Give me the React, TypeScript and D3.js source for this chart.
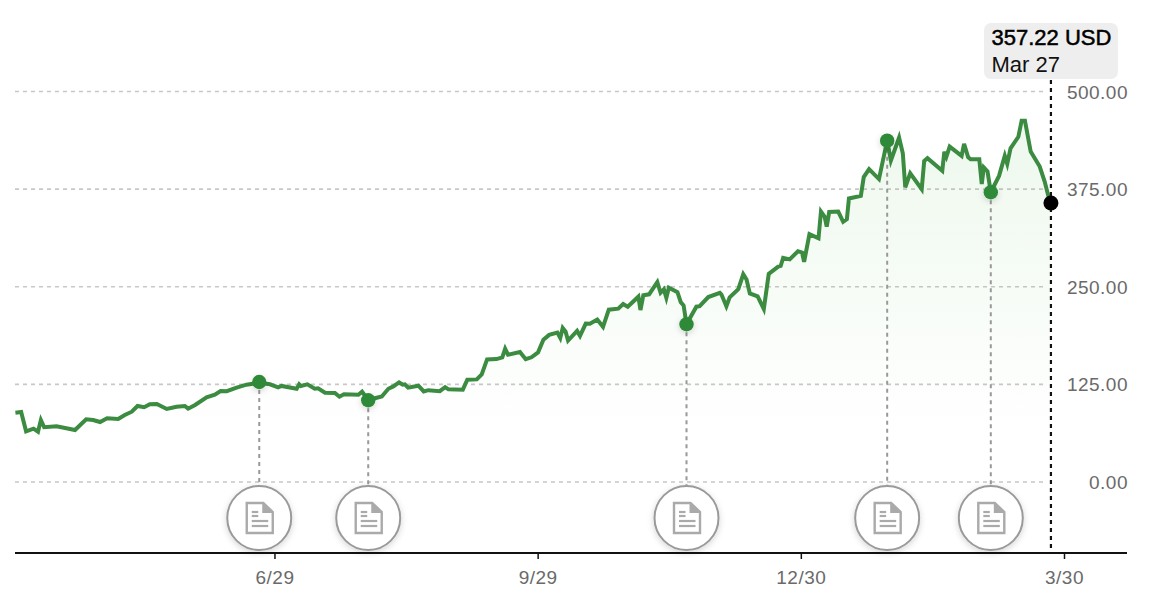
import React, { useEffect, useRef } from 'react';
import * as d3 from 'd3';

// position along the axis, counted in trading sessions from the first close
const sessions = [
  0, 1.4, 2.6, 4.4, 5.5, 6.2, 7, 10, 14.5, 17.2, 18.9, 20.6, 22.3, 25, 26.6, 28.3, 29.7, 31.3, 32.7, 34.4,
  36.8, 39.2, 41.2, 42, 43.7, 46.5, 48.5, 49.9, 51.4, 53.8, 56.2, 59.3, 61.9, 63.9, 64.7, 68.4, 69, 69.4, 71, 72.8,
  73.6, 75.3, 77.7, 78.8, 79.9, 83.4, 84.3, 85.8, 87.4, 89.1, 90.7, 91.9, 93.3, 94.2, 94.7, 95.5, 98, 99.3, 100.4, 103.2,
  104.5, 105.3, 108.8, 109.9, 112.2, 113.4, 114.7, 117, 118.4, 119.1, 119.8, 122.7, 124.1, 125.5, 127.1, 128.4, 129.8, 131.8, 132.5, 133.1,
  133.8, 134.4, 136.6, 137.3, 138.7, 139.7, 141.5, 142.9, 144.3, 146.6, 147.8, 148.9, 151.5, 152, 152.7, 154.1, 156.1, 156.9, 157.7, 158.3,
  158.9, 161, 161.8, 162.5, 163.2, 165.6, 166.4, 168.5, 171.3, 171.7, 172.9, 173.7, 175.8, 177, 177.8, 178.6, 180.5, 182, 183.2, 185.5,
  186.1, 186.7, 188.3, 190.3, 191.3, 191.8, 193.1, 195.3, 195.9, 196.8, 197.3, 197.9, 200.1, 201.3, 202.2, 202.7, 205.6, 206.3, 207.6, 210,
  212, 212.9, 214.9, 215.8, 216.4, 217.6, 220.4, 221, 221.8, 225.4, 225.9, 226.4, 227.2, 230.1, 230.7, 231.7, 232.3, 234.4, 235, 235.5,
  236.4, 237.2, 239.2, 240.6, 241.2, 242, 243.9, 244.7, 245.5, 246.9, 249.1, 250.3, 251.3, 251.7,
];

const closes = [
  88.8, 89.7, 64.9, 68.3, 64.4, 79.4, 70.1, 71.3, 66.6, 80.3, 79.4, 76.8, 81.6, 80.7, 85.8, 90, 97.3, 95.7, 99.5, 99.9,
  93.5, 96.4, 97.3, 93.9, 98.6, 108.5, 111.8, 116.5, 116.2, 120.8, 124.6, 127, 125.1, 121.3, 123, 119.5, 125.1, 123, 125.1, 119.5,
  120, 114.4, 114, 109.2, 112.3, 111.8, 115.7, 104.7, 107.3, 109.5, 119.4, 122.4, 127.5, 124.6, 125, 120.8, 123.3, 116, 117.6, 116.3,
  121.5, 118.6, 118.2, 131, 131.4, 137.8, 157, 157.4, 159.5, 170.6, 163, 166.5, 157.2, 159.7, 166, 182.1, 188.4, 191.3, 184.5, 197.2,
  192.5, 181, 193.4, 187, 202.8, 202.7, 208.1, 198.7, 220.6, 221.9, 227.8, 224.5, 237.3, 220.2, 239, 240.3, 256, 242.3, 246.6, 235.8,
  248.7, 243, 230.3, 226, 202, 224.5, 225.2, 236.8, 242.3, 240, 225, 236.5, 247, 266, 259.3, 241.5, 237.8, 221.5, 266.5, 275.7,
  276.6, 287, 285, 295.5, 293.8, 281.9, 317.3, 312, 346.3, 339.6, 327, 345.7, 346.3, 333.2, 336.5, 363, 366.4, 390.4, 400.7, 387.9,
  437, 411.6, 441, 421, 377.4, 395.3, 375, 411, 414.6, 398.5, 423, 416.6, 429.5, 417.6, 432.9, 415.8, 413.2, 413.2, 381.4, 402.7,
  397.7, 371, 391.9, 417.6, 407.4, 427.3, 442, 462.7, 462.7, 423, 403.9, 384.7, 364, 357.22,
];

const yTicks = [0, 125, 250, 375, 500];
const xTicks = [63, 127, 191, 255];
const xTickLabels = ['6/29', '9/29', '12/30', '3/30'];
const filingSessions = [59.3, 85.8, 163.2, 212, 237.2];
const filingCloses = [128, 104.7, 202, 437, 371];
const lastPrice = '357.22 USD';
const lastDate = 'Mar 27';

const WIDTH = 1164;
const HEIGHT = 603;
const FONT = '"Liberation Sans", Arial, sans-serif';

export default function App() {
  const svgRef = useRef<SVGSVGElement | null>(null);

  useEffect(() => {
    const svg = d3.select(svgRef.current);
    svg.selectAll('*').remove();

    const x = d3.scaleLinear().domain([0, 255]).range([15.4, 1064]);
    const y = d3.scaleLinear().domain([0, 500]).range([482, 91.5]);
    const axisY = 553;
    const points = sessions.map((s, i) => [s, closes[i]] as [number, number]);
    const lastX = x(sessions[sessions.length - 1]) + 0.5;
    const lastY = y(closes[closes.length - 1]);

    const defs = svg.append('defs');
    const grad = defs.append('linearGradient')
      .attr('id', 'area-fill')
      .attr('gradientUnits', 'userSpaceOnUse')
      .attr('x1', 0).attr('x2', 0)
      .attr('y1', y(470)).attr('y2', y(60));
    grad.append('stop').attr('offset', '0%').attr('stop-color', '#5fbf5a').attr('stop-opacity', 0.11);
    grad.append('stop').attr('offset', '100%').attr('stop-color', '#5fbf5a').attr('stop-opacity', 0);

    const shadow = defs.append('filter').attr('id', 'soft-shadow')
      .attr('x', '-50%').attr('y', '-50%').attr('width', '200%').attr('height', '200%');
    shadow.append('feDropShadow')
      .attr('dx', 0).attr('dy', 2).attr('stdDeviation', 3)
      .attr('flood-color', '#000').attr('flood-opacity', 0.16);

    // grid lines
    svg.append('g').selectAll('line').data(yTicks).enter().append('line')
      .attr('x1', 15).attr('x2', 1045)
      .attr('y1', d => y(d)).attr('y2', d => y(d))
      .attr('stroke', '#c8c8c8').attr('stroke-width', 1.6).attr('stroke-dasharray', '4 4');

    // y labels
    svg.append('g').selectAll('text').data(yTicks).enter().append('text')
      .attr('x', 1128).attr('y', d => y(d) + 7)
      .attr('text-anchor', 'end')
      .attr('font-family', FONT).attr('font-size', 19).attr('fill', '#6a6a6a')
      .attr('letter-spacing', 0.5)
      .text(d => d3.format('.2f')(d));

    // area and line
    const area = d3.area<[number, number]>().x(d => x(d[0])).y0(y(0) + 12).y1(d => y(d[1]));
    svg.append('path').datum(points).attr('d', area).attr('fill', 'url(#area-fill)');

    // filing stems
    svg.append('g').selectAll('line').data(filingSessions).enter().append('line')
      .attr('x1', d => x(d)).attr('x2', d => x(d))
      .attr('y1', (_, i) => y(filingCloses[i])).attr('y2', 486)
      .attr('stroke', '#999').attr('stroke-width', 2).attr('stroke-dasharray', '4 4');

    const line = d3.line<[number, number]>().x(d => x(d[0])).y(d => y(d[1]));
    svg.append('path').datum(points).attr('d', line)
      .attr('fill', 'none').attr('stroke', '#3b8b40').attr('stroke-width', 4)
      .attr('stroke-linejoin', 'miter');

    // filing dots
    svg.append('g').selectAll('circle').data(filingSessions).enter().append('circle')
      .attr('cx', d => x(d)).attr('cy', (_, i) => y(filingCloses[i])).attr('r', 7.2)
      .attr('fill', '#2f8a37').attr('filter', 'url(#soft-shadow)');

    // x axis
    svg.append('line')
      .attr('x1', 15).attr('x2', 1127).attr('y1', axisY).attr('y2', axisY)
      .attr('stroke', '#111').attr('stroke-width', 2);
    const xAxis = d3.axisBottom(x)
      .tickValues(xTicks)
      .tickSize(6)
      .tickPadding(12)
      .tickFormat((_, i) => xTickLabels[i]);
    const xg = svg.append('g').attr('transform', `translate(0,${axisY})`).call(xAxis);
    xg.select('.domain').remove();
    xg.selectAll('line').attr('stroke', '#111').attr('stroke-width', 1.5);
    xg.selectAll('text')
      .attr('font-family', FONT).attr('font-size', 19).attr('fill', '#6a6a6a')
      .attr('letter-spacing', 0.5);

    // filing badges
    const badge = svg.append('g').selectAll('g').data(filingSessions).enter().append('g')
      .attr('transform', d => `translate(${x(d)},518)`);
    badge.append('circle').attr('r', 32)
      .attr('fill', '#fff').attr('stroke', '#9a9a9a').attr('stroke-width', 2)
      .attr('filter', 'url(#soft-shadow)');
    badge.append('path')
      .attr('d', 'M-12.5,-15 H4 L13.5,-6 V15 H-12.5 Z')
      .attr('fill', '#fff').attr('stroke', '#aaa').attr('stroke-width', 2.4);
    badge.append('path').attr('d', 'M3,-15.5 L14,-5 H3 Z').attr('fill', '#aaa');
    badge.append('g').selectAll('line')
      .data([[-7.5, -1, -6], [-7.5, -1, -2], [-7.5, 9, 3], [-7.5, 9, 8]])
      .enter().append('line')
      .attr('x1', d => d[0]).attr('x2', d => d[1])
      .attr('y1', d => d[2]).attr('y2', d => d[2])
      .attr('stroke', '#aaa').attr('stroke-width', 2.2);

    // crosshair for the last close
    svg.append('line')
      .attr('x1', lastX).attr('x2', lastX).attr('y1', 80).attr('y2', axisY)
      .attr('stroke', '#111').attr('stroke-width', 2.2).attr('stroke-dasharray', '4 4');
    svg.append('circle').attr('cx', lastX).attr('cy', lastY).attr('r', 7.5).attr('fill', '#000');

    // tooltip
    svg.append('rect')
      .attr('x', 984).attr('y', 23).attr('width', 134).attr('height', 56).attr('rx', 7)
      .attr('fill', '#eeeeee');
    svg.append('text')
      .attr('x', 991.5).attr('y', 45)
      .attr('font-family', FONT).attr('font-size', 22).attr('fill', '#000')
      .attr('stroke', '#000').attr('stroke-width', 0.5)
      .text(lastPrice);
    svg.append('text')
      .attr('x', 991.5).attr('y', 71.5)
      .attr('font-family', FONT).attr('font-size', 22).attr('fill', '#111')
      .text(lastDate);
  }, []);

  return (
    <svg
      ref={svgRef}
      width={WIDTH}
      height={HEIGHT}
      style={{ position: 'absolute', left: 0, top: 0, background: '#fff' }}
    />
  );
}
